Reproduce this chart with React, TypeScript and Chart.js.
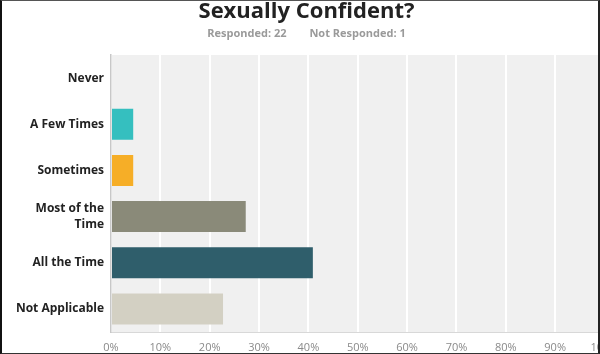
import React, { useEffect, useRef } from "react";
import { Chart, registerables } from "chart.js";

Chart.register(...registerables);

const TITLE = "Sexually Confident?";
const SUBTITLE = "Responded: 22        Not Responded: 1";
const categories: (string | string[])[] = [
  "Never",
  "A Few Times",
  "Sometimes",
  ["Most of the", "Time"],
  "All the Time",
  "Not Applicable",
];
const percentages = [0, 4.5, 4.5, 27.3, 40.9, 22.7];
const barColors = ["#35bfbf", "#35bfbf", "#f6ae27", "#8a8a79", "#2f5e6b", "#d3d0c3"];
const tickStep = 10;
const axisMax = 100;

const plotBackground = {
  id: "plotBackground",
  beforeDraw(chart: any) {
    const { ctx, chartArea } = chart;
    if (!chartArea) return;
    ctx.save();
    ctx.fillStyle = "#f0f0f0";
    ctx.fillRect(chartArea.left, chartArea.top, chartArea.right - chartArea.left, chartArea.bottom - chartArea.top);
    ctx.restore();
  },
};

export default function App() {
  const ref = useRef<HTMLCanvasElement | null>(null);

  useEffect(() => {
    if (!ref.current) return;
    const chart = new Chart(ref.current, {
      type: "bar",
      data: {
        labels: categories,
        datasets: [
          {
            data: percentages,
            backgroundColor: barColors,
            borderWidth: 0,
            barPercentage: 0.67,
            categoryPercentage: 1,
          },
        ],
      },
      options: {
        indexAxis: "y",
        animation: false,
        responsive: false,
        maintainAspectRatio: false,
        layout: { padding: { left: 0, right: 17, top: 0, bottom: 0 } },
        plugins: {
          legend: { display: false },
          tooltip: { enabled: false },
          title: {
            display: true,
            text: TITLE,
            color: "#222222",
            font: { family: "'Open Sans', sans-serif", size: 22, weight: "bold", lineHeight: 1 },
            padding: { top: 4, bottom: 0 },
          },
          subtitle: {
            display: true,
            text: SUBTITLE,
            color: "#9a9a9a",
            font: { family: "'Open Sans', sans-serif", size: 11, weight: "bold", lineHeight: 1.2 },
            padding: { top: 4.4, bottom: 14.4 },
          },
        },
        scales: {
          x: {
            min: 0,
            max: axisMax,
            position: "bottom",
            grid: { color: "#ffffff", lineWidth: 2, drawTicks: false },
            border: { display: true, color: "#d8d8d8", width: 1 },
            ticks: {
              stepSize: tickStep,
              padding: 9.5,
              color: "#8a8a8a",
              font: { family: "'Open Sans', sans-serif", size: 11 },
              callback: (v: any) => v + "%",
            },
            afterFit: (scale: any) => {
              scale.height = 21;
            },
          },
          y: {
            grid: { display: false, drawTicks: false },
            border: { display: true, color: "#c8c8c8", width: 1.5 },
            ticks: {
              padding: 7,
              color: "#222222",
              font: { family: "'Open Sans', sans-serif", size: 12, weight: "bold", lineHeight: 1.3 },
            },
            afterFit: (scale: any) => {
              scale.width = 109;
            },
          },
        },
      },
      plugins: [plotBackground],
    });
    return () => chart.destroy();
  }, []);

  return (
    <div
      style={{
        position: "fixed",
        left: 0,
        top: 0,
        width: 600,
        height: 354,
        boxSizing: "border-box",
        borderLeft: "2px solid #111",
        borderRight: "2px solid #222",
        borderTop: "1px solid #555",
        borderBottom: "1px solid #333",
        overflow: "hidden",
        background: "#ffffff",
      }}
    >
      <canvas
        ref={ref}
        width={626}
        height={356}
        style={{ position: "absolute", left: 0, top: -4, width: 626, height: 356 }}
      />
    </div>
  );
}
